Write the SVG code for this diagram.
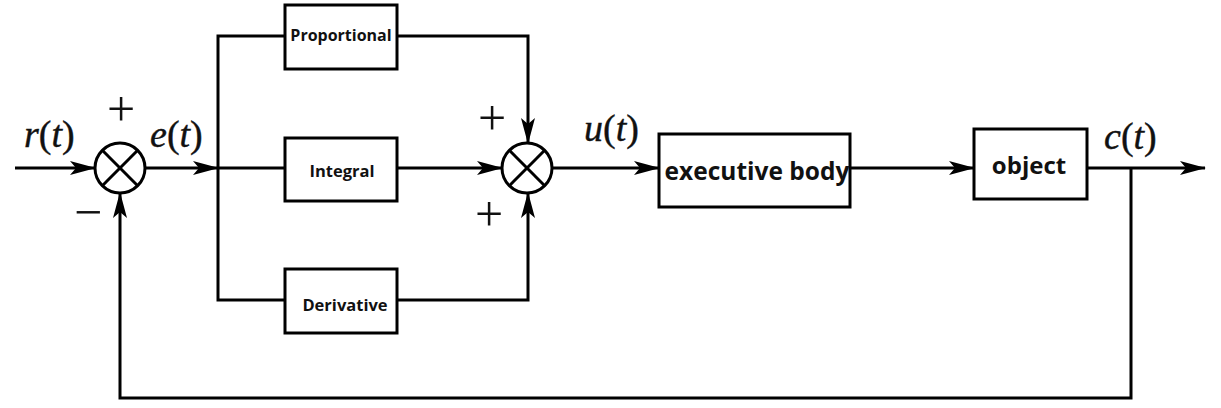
<svg xmlns="http://www.w3.org/2000/svg" width="1221" height="408" viewBox="0 0 1221 408">
<style>
.ln{fill:none;stroke:#000;stroke-width:3}
.box{fill:#fff;stroke:#000;stroke-width:3}
.bt{font-family:"Open Sans","Noto Sans",sans-serif;font-weight:bold;fill:#111;text-anchor:middle}
.m{font-family:"Liberation Serif",serif;font-size:38px;fill:#111;stroke:#111;stroke-width:0.4}
.i{font-style:italic}
.sg{font-family:"Liberation Serif",serif;font-size:50px;fill:#111;text-anchor:middle}
</style>
<defs>
<marker id="ar" markerWidth="26" markerHeight="14" refX="25" refY="7" orient="auto" markerUnits="userSpaceOnUse">
<path d="M0,0 L26,7 L0,14 L6,7 Z" fill="#000"/>
</marker>
</defs>
<rect width="1221" height="408" fill="#fff"/>
<g id="connectors">
<line class="ln" x1="15" y1="168" x2="95" y2="168" marker-end="url(#ar)"/>
<line class="ln" x1="145" y1="168" x2="218" y2="168" marker-end="url(#ar)"/>
<polyline class="ln" points="285,36 218,36 218,300 285,300"/>
<line class="ln" x1="218" y1="168" x2="285" y2="168"/>
<polyline class="ln" points="397,36 528,36 528,143" marker-end="url(#ar)"/>
<line class="ln" x1="397" y1="168" x2="502" y2="168" marker-end="url(#ar)"/>
<polyline class="ln" points="397,300 528,300 528,193" marker-end="url(#ar)"/>
<line class="ln" x1="552" y1="168" x2="659" y2="168" marker-end="url(#ar)"/>
<line class="ln" x1="850" y1="168" x2="974" y2="168" marker-end="url(#ar)"/>
<line class="ln" x1="1087" y1="168" x2="1205" y2="168" marker-end="url(#ar)"/>
<polyline class="ln" points="1131,168 1131,398 120,398 120,193" marker-end="url(#ar)"/>
</g>
<g id="sum1">
<circle class="box" cx="120" cy="168" r="25"/>
<line class="ln" x1="102.3" y1="150.3" x2="137.7" y2="185.7"/>
<line class="ln" x1="137.7" y1="150.3" x2="102.3" y2="185.7"/>
<text class="sg" x="121" y="126">+</text>
<text class="sg" x="88" y="229">−</text>
</g>
<g id="sum2">
<circle class="box" cx="527" cy="168" r="25"/>
<line class="ln" x1="509.3" y1="150.3" x2="544.7" y2="185.7"/>
<line class="ln" x1="544.7" y1="150.3" x2="509.3" y2="185.7"/>
<text class="sg" x="492" y="135">+</text>
<text class="sg" x="489" y="231">+</text>
</g>
<g id="proportional">
<rect class="box" x="285" y="5" width="112" height="64"/>
<text class="bt" x="341" y="41" font-size="16">Proportional</text>
</g>
<g id="integral">
<rect class="box" x="285" y="138" width="112" height="63"/>
<text class="bt" x="342" y="177" font-size="16.5">Integral</text>
</g>
<g id="derivative">
<rect class="box" x="285" y="269" width="112" height="64"/>
<text class="bt" x="345" y="311" font-size="16.5">Derivative</text>
</g>
<g id="executive">
<rect class="box" x="659" y="134" width="191" height="73"/>
<text class="bt" x="757" y="180" font-size="24.5">executive body</text>
</g>
<g id="object">
<rect class="box" x="974" y="129" width="113" height="70"/>
<text class="bt" x="1029" y="174" font-size="24">object</text>
</g>
<g id="labels">
<text class="m" x="24" y="147"><tspan class="i">r</tspan>(<tspan class="i">t</tspan>)</text>
<text class="m" x="150" y="147"><tspan class="i">e</tspan>(<tspan class="i">t</tspan>)</text>
<text class="m" x="584" y="141"><tspan class="i">u</tspan>(<tspan class="i">t</tspan>)</text>
<text class="m" x="1104" y="149"><tspan class="i">c</tspan>(<tspan class="i">t</tspan>)</text>
</g>
</svg>
